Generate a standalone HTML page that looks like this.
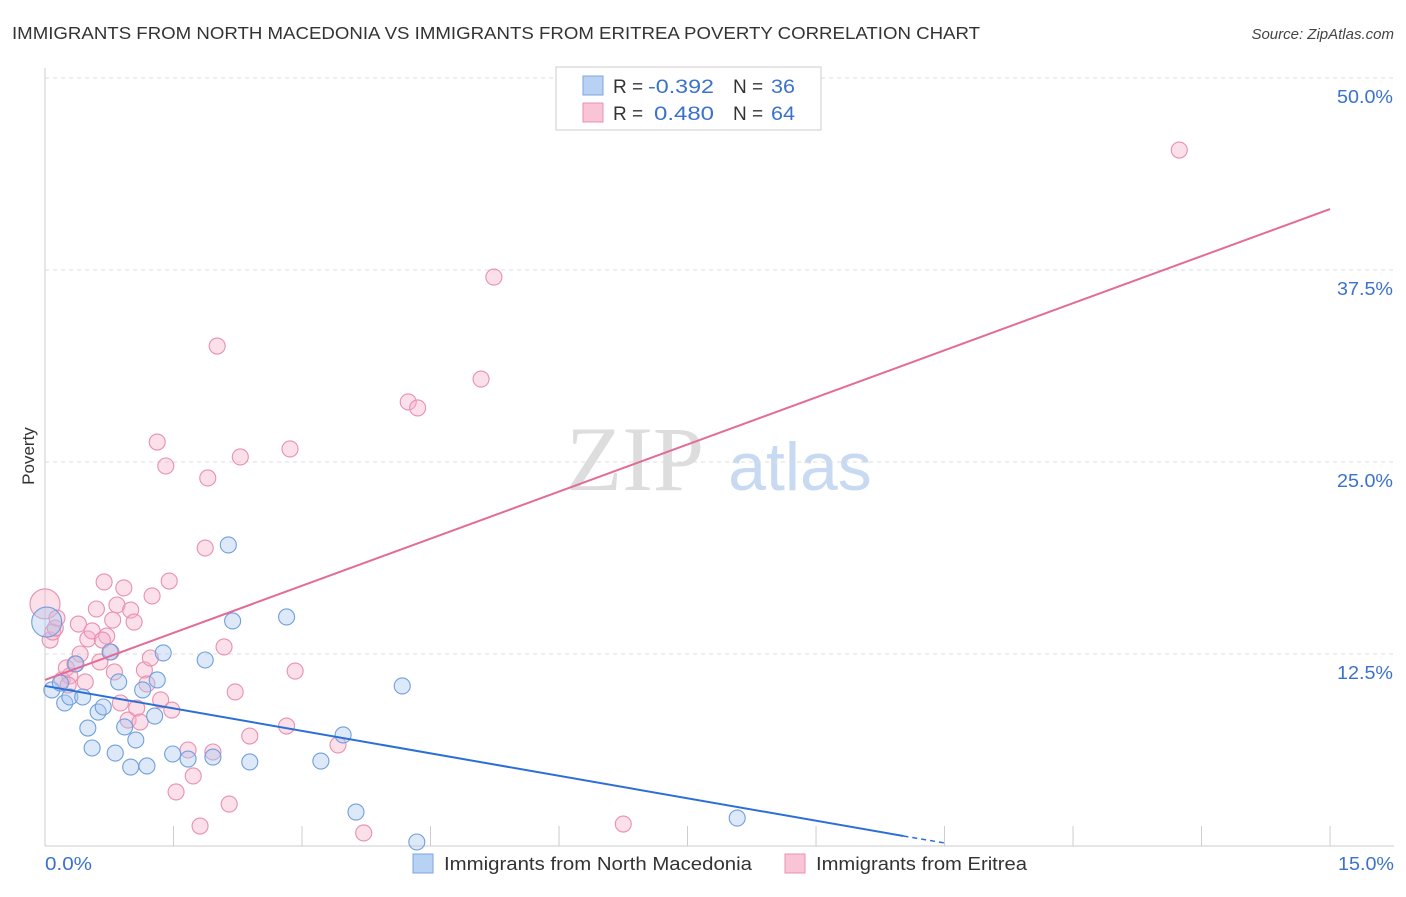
<!DOCTYPE html>
<html><head><meta charset="utf-8"><style>
body{margin:0;background:#fff;font-family:"Liberation Sans",sans-serif;}
</style></head><body>
<svg width="1406" height="892" xmlns="http://www.w3.org/2000/svg" id="svg" font-family="Liberation Sans, sans-serif">
<text x="12" y="39" font-size="17.5" fill="#333" textLength="968" lengthAdjust="spacingAndGlyphs">IMMIGRANTS FROM NORTH MACEDONIA VS IMMIGRANTS FROM ERITREA POVERTY CORRELATION CHART</text>
<text x="1394" y="39" font-size="15" fill="#444" font-style="italic" text-anchor="end">Source: ZipAtlas.com</text>
<text x="635" y="490" font-size="92" fill="#ddd" font-family="Liberation Serif, serif" text-anchor="middle">ZIP</text>
<text x="800" y="490" font-size="68" fill="#c8daf2" text-anchor="middle">atlas</text>
<text x="34" y="456" font-size="17" fill="#333" text-anchor="middle" transform="rotate(-90 34 456)">Poverty</text>
<g id="grid"></g><g id="marks"></g>
<rect x="556" y="67" width="265" height="63" fill="#fff" stroke="#ccc"/>
<rect x="583" y="76" width="20" height="19" fill="#b8d2f4" stroke="#7aa6e0"/>
<rect x="583" y="103" width="20" height="19" fill="#f8c4d6" stroke="#e890b0"/>
<text y="93" font-size="19" fill="#333"><tspan x="613">R = </tspan><tspan x="648" fill="#3a72cc" textLength="66" lengthAdjust="spacingAndGlyphs">-0.392</tspan><tspan x="733">N = </tspan><tspan x="771" fill="#3a72cc" textLength="24" lengthAdjust="spacingAndGlyphs">36</tspan></text>
<text y="120" font-size="19" fill="#333"><tspan x="613">R = </tspan><tspan x="654" fill="#3a72cc" textLength="60" lengthAdjust="spacingAndGlyphs">0.480</tspan><tspan x="733">N = </tspan><tspan x="771" fill="#3a72cc" textLength="24" lengthAdjust="spacingAndGlyphs">64</tspan></text>
<rect x="413" y="854" width="20" height="19" fill="#b8d2f4" stroke="#7aa6e0"/>
<text x="444" y="870" font-size="18" fill="#333" textLength="308" lengthAdjust="spacingAndGlyphs">Immigrants from North Macedonia</text>
<rect x="785" y="854" width="20" height="19" fill="#f8c4d6" stroke="#e890b0"/>
<text x="816" y="870" font-size="18" fill="#333" textLength="211" lengthAdjust="spacingAndGlyphs">Immigrants from Eritrea</text>
<text x="45" y="870" font-size="18" fill="#3a72cc" textLength="47" lengthAdjust="spacingAndGlyphs">0.0%</text>
<text x="1366" y="870" font-size="18" fill="#3a72cc" text-anchor="middle" textLength="56" lengthAdjust="spacingAndGlyphs">15.0%</text>
</svg>
<script>
const yTicks=[12.5,25,37.5,50];
const yTickLabels=["12.5%","25.0%","37.5%","50.0%"];
const xTicks=[0,1.5,3,4.5,6,7.5,9,10.5,12,13.5,15];
const blueX=[0.02,0.08,0.23,0.29,0.44,0.18,0.36,0.50,0.55,0.62,0.68,0.76,0.82,0.86,0.93,1.00,1.06,1.14,1.19,1.28,1.31,1.38,1.49,1.67,1.87,1.96,2.14,2.19,2.39,2.82,3.22,3.48,3.63,4.17,4.34,8.08];
const blueY=[14.58,10.16,9.31,9.70,9.70,10.61,11.85,7.68,6.38,8.72,9.05,12.63,6.05,10.68,7.75,5.14,6.90,10.16,5.21,8.46,10.81,12.57,5.99,5.66,12.11,5.79,19.60,14.65,5.47,14.91,5.53,7.23,2.21,10.42,0.26,1.82];
const pinkX=[0.00,0.06,0.09,0.12,0.20,0.25,0.29,0.35,0.39,0.41,0.47,0.50,0.55,0.60,0.64,0.69,0.72,0.77,0.81,0.84,0.88,0.92,0.97,1.00,1.04,1.07,1.11,1.16,1.19,1.23,1.25,1.31,1.41,1.45,1.48,1.53,1.67,1.73,1.81,1.87,1.90,1.96,2.01,2.09,2.15,2.22,2.28,2.39,2.82,2.86,2.92,3.42,3.72,4.24,4.35,5.09,5.24,6.75,13.24,0.14,0.27,0.67,1.35,0.79];
const pinkY=[15.76,13.41,13.93,14.19,10.81,11.59,11.07,11.85,14.45,12.50,10.68,13.48,14.00,15.43,11.98,17.19,13.67,12.63,11.33,15.69,9.31,16.80,8.20,15.36,14.58,8.98,8.07,11.46,10.55,12.24,16.28,26.30,24.74,17.25,8.85,3.52,6.25,4.56,1.30,19.40,23.96,6.12,32.55,12.96,2.73,10.03,25.33,7.16,7.81,25.85,11.39,6.58,0.85,28.91,28.52,30.40,37.04,1.43,45.31,14.84,10.48,13.41,9.51,14.71];
const blueTrend=[[0,10.42],[10.02,0.65],[10.5,0.2]];
const pinkTrend=[[0,10.81],[15,41.47]];
const NS="http://www.w3.org/2000/svg";
const X=v=>45+v*85.67, Y=v=>846-v*15.36;
const grid=document.getElementById('grid'), marks=document.getElementById('marks');
function mk(tag,at,parent){const e=document.createElementNS(NS,tag);for(const k in at)e.setAttribute(k,at[k]);parent.appendChild(e);return e;}
mk('line',{x1:45,y1:68,x2:45,y2:846,stroke:'#ccc'},grid);
mk('line',{x1:45,y1:846,x2:1394,y2:846,stroke:'#ccc'},grid);
yTicks.forEach((t,i)=>{
 const l=mk('line',{x1:45,y1:Y(t),x2:1394,y2:Y(t),stroke:'#ddd','stroke-dasharray':'4 4'},grid);
 
 
 const tx=mk('text',{x:1393,y:Y(t)+25,'font-size':18,fill:'#3a72cc','text-anchor':'end',textLength:56,lengthAdjust:'spacingAndGlyphs'},grid);
 tx.textContent=yTickLabels[i];
 
 
});
xTicks.forEach(t=>{
 const l=mk('line',{x1:X(t),y1:826,x2:X(t),y2:846,stroke:'#ccc'},grid);
 
 
});
function dots(xs,ys,fill,stroke,name){
 xs.forEach((x,i)=>{
  const r=i===0?15:8;
  const c=mk('circle',{cx:X(x),cy:Y(ys[i]),r:r,fill:fill,'fill-opacity':0.4,stroke:stroke,'stroke-width':1.1},marks);
  
  
 });
}
dots(pinkX,pinkY,'#f4b0c8','#e890b0','eritrea-point');
dots(blueX,blueY,'#a9c8f0','#6f9fdc','north-macedonia-point');
let b=mk('line',{x1:X(blueTrend[0][0]),y1:Y(blueTrend[0][1]),x2:X(blueTrend[1][0]),y2:Y(blueTrend[1][1]),stroke:'#2b6fd6','stroke-width':2},marks);


let bd=mk('line',{x1:X(blueTrend[1][0]),y1:Y(blueTrend[1][1]),x2:X(blueTrend[2][0]),y2:Y(blueTrend[2][1]),stroke:'#2b6fd6','stroke-width':1.5,'stroke-dasharray':'5 4'},marks);


let p=mk('line',{x1:X(pinkTrend[0][0]),y1:Y(pinkTrend[0][1]),x2:X(pinkTrend[1][0]),y2:Y(pinkTrend[1][1]),stroke:'#e36b97','stroke-width':2},marks);


</script>
</body></html>
